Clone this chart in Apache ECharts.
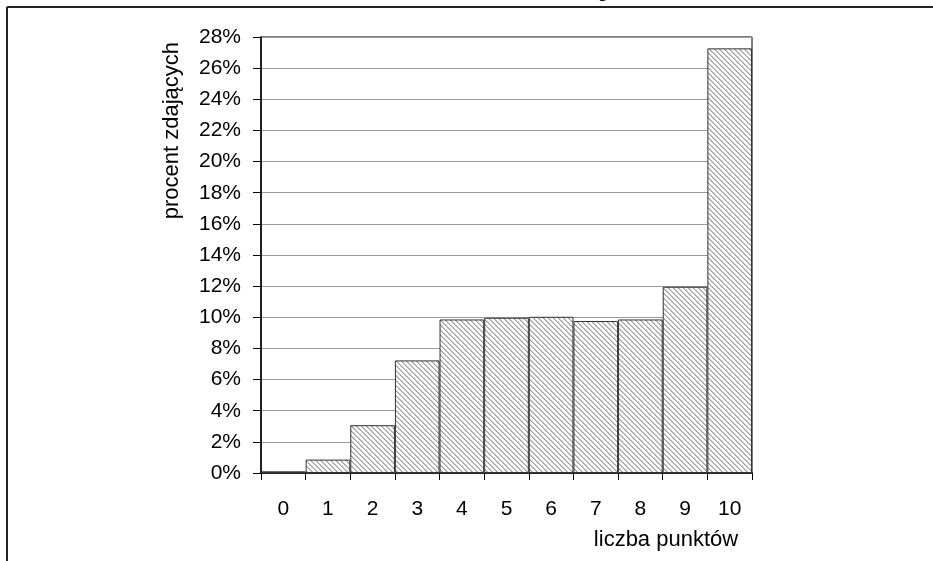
<!DOCTYPE html>
<html>
<head>
<meta charset="utf-8">
<script src="https://cdn.jsdelivr.net/npm/echarts@6/dist/echarts.min.js"></script>
<style>
html,body{margin:0;padding:0;background:#fff;}
#c{width:933px;height:561px;}
</style>
</head>
<body>
<div id="c"></div>
<script>
const categories = ['0','1','2','3','4','5','6','7','8','9','10'];
const percentValues = [0.11, 0.86, 3.07, 7.23, 9.86, 9.97, 10.03, 9.76, 9.86, 11.96, 27.27];
const yTickMax = 28;
const yTickStep = 2;
const xAxisTitle = 'liczba punktów';
const yAxisTitle = 'procent zdających';

const FONT = '"Liberation Sans", Arial, sans-serif';

function hatch() {
  const s = 5;
  const cv = document.createElement('canvas');
  cv.width = s; cv.height = s;
  const ctx = cv.getContext('2d');
  const img = ctx.createImageData(s, s);
  for (let y = 0; y < s; y++) {
    for (let x = 0; x < s; x++) {
      const d = ((x - y) % s + s) % s;
      const i = (y * s + x) * 4;
      let v = 255;
      if (d === 0) v = 160;
      else if (d === 1) v = 200;
      img.data[i] = v; img.data[i+1] = v; img.data[i+2] = v; img.data[i+3] = 255;
    }
  }
  ctx.putImageData(img, 0, 0);
  return cv;
}

const chart = echarts.init(document.getElementById('c'), null, {renderer: 'canvas'});
chart.setOption({
  animation: false,
  backgroundColor: '#fff',
  textStyle: {fontFamily: FONT},
  grid: {left: 261, right: 181, top: 37, bottom: 88, show: true, borderColor: '#000', borderWidth: 1, backgroundColor: 'transparent'},
  xAxis: {
    type: 'category',
    data: categories,
    boundaryGap: true,
    axisLine: {lineStyle: {color: '#000', width: 1.5}},
    axisTick: {show: true, alignWithLabel: false, length: 7, inside: false, lineStyle: {color: '#000'}},
    axisLabel: {color: '#000', fontSize: 21, fontFamily: FONT, margin: 26},
    splitLine: {show: false}
  },
  yAxis: {
    type: 'value',
    min: 0,
    max: yTickMax,
    interval: yTickStep,
    axisLine: {show: true, lineStyle: {color: '#000', width: 1.5}},
    axisTick: {show: true, length: 8, lineStyle: {color: '#000'}},
    axisLabel: {color: '#000', fontSize: 21, fontFamily: FONT, margin: 20, formatter: v => v + '%'},
    splitLine: {show: true, lineStyle: {color: '#999', width: 1}}
  },
  series: [{
    type: 'bar',
    data: percentValues,
    barCategoryGap: '0%',
    itemStyle: {
      color: {image: hatch(), repeat: 'repeat'},
      borderColor: '#333',
      borderWidth: 1
    }
  }],
  graphic: [
    {type: 'line', shape: {x1: 7, y1: 7, x2: 933, y2: 7}, style: {stroke: '#222', lineWidth: 2}},
    {type: 'line', shape: {x1: 7, y1: 7, x2: 7, y2: 561}, style: {stroke: '#222', lineWidth: 2}},
    {type: 'text', x: 603, y: 2, style: {text: 'g', font: 'bold 17px ' + FONT, fill: '#000', textAlign: 'center', textVerticalAlign: 'bottom'}},
    {type: 'text', x: 666, y: 540, style: {text: xAxisTitle, font: '22px ' + FONT, fill: '#000', textAlign: 'center', textVerticalAlign: 'middle'}},
    {type: 'text', x: 172, y: 42, rotation: Math.PI / 2, style: {text: yAxisTitle, font: '22px ' + FONT, fill: '#000', textAlign: 'right', textVerticalAlign: 'middle'}}
  ]
});
</script>
</body>
</html>
